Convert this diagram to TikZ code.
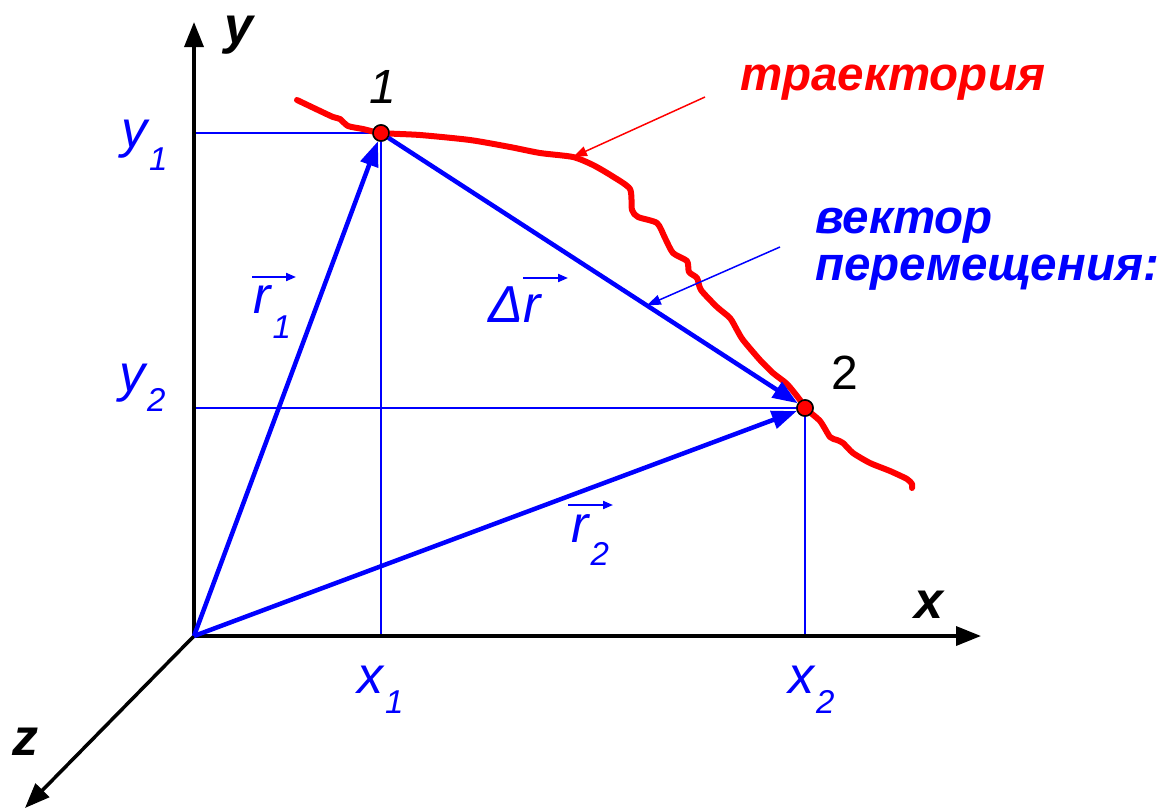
\documentclass[tikz,border=0pt]{standalone}
\usepackage{fontspec}
\setmainfont{Liberation Sans}
\usetikzlibrary{arrows.meta,calc}
\definecolor{vblue}{RGB}{0,0,255}
\definecolor{tred}{RGB}{255,0,0}
\newcommand\lsub[2]{\kern2pt\raisebox{-#1pt}{\fontsize{33}{40}\selectfont #2}}
\begin{document}
\begin{tikzpicture}[x=1pt,y=-1pt,
  axis/.style={line width=3.5pt,-{Triangle[length=25pt,width=19pt]}},
  vec/.style={draw=vblue,line width=4.5pt,-{Triangle[length=25pt,width=18pt]}},
  proj/.style={draw=vblue,line width=1.6pt},
  traj/.style={draw=tred,line width=6pt,line join=round,line cap=round},
  pt/.style={circle,fill=tred,draw=black,line width=1.5pt,minimum size=16pt,inner sep=0pt},
  axlbl/.style={font=\fontsize{52}{60}\selectfont\bfseries\itshape,inner sep=0pt,anchor=base west},
  lbl/.style={font=\fontsize{52}{60}\selectfont\itshape,text=vblue,inner sep=0pt,anchor=base west},
  over/.style={draw=vblue,line width=2pt,-{Triangle[length=10pt,width=8pt]}},
  ann/.style={line width=1.5pt,-{Triangle[length=14pt,width=10pt]}},
]
\useasboundingbox (0,0) rectangle (1164,809);
% coordinates
\coordinate (O) at (194,636);
\coordinate (ytip) at (194,22);
\coordinate (xtip) at (981,636);
\coordinate (ztip) at (25,808);
\node[pt] (p1) at (381,133) {};
\node[pt] (p2) at (805,408) {};
% projections
\draw[proj] (p1.center) -- (p1.center -| O);
\draw[proj] (p2.center) -- (p2.center -| O);
\draw[proj] (p1.center) -- (p1.center |- O);
\draw[proj] (p2.center) -- (p2.center |- O);
% axes
\draw[axis] (O) -- (ytip);
\draw[axis] (O) -- (xtip);
\draw[axis] (O) -- (ztip);
\node[axlbl] (ylab) at (224,43) {y};
\node[axlbl] (xlab) at (914,618) {x};
\node[axlbl] (zlab) at (12,755) {z};
% trajectory
\draw[traj] plot[smooth,tension=0.4] coordinates {(297,100) (318,110) (333,117) (340,119) (348,126) (363,129) (381,133) (420,135) (470,140) (510,147) (540,153) (573,157) (593,165) (612,176) (630,189) (632,210) (638,217) (657,223) (665,238) (673,253) (687,261) (689,272) (697,278) (701,290) (717,307) (730,318) (737,330) (743,340) (760,360) (773,373) (787,384) (800,400) (805,408) (820,421) (830,437) (837,440) (843,443) (853,453) (870,463) (890,471) (907,479) (912,484) (912,488)};
\coordinate (tpt) at (573,157);
% vectors
\draw[vec] (O) -- (p1);
\draw[vec] (O) -- (p2);
\draw[vec] (p1) -- (p2);
\node[pt] at (p1) {};
\node[pt] at (p2) {};
% point labels
\node[font=\fontsize{48}{56}\selectfont\itshape,inner sep=0pt,anchor=base west] (n1) at (369,103) {1};
\node[font=\fontsize{48}{56}\selectfont,inner sep=0pt,anchor=base west] (n2) at (831,389) {2};
% coordinate labels
\node[lbl] (y1) at (121,147) {y\lsub{23}{1}};
\node[lbl] (y2) at (119,391) {y\lsub{20}{2}};
\node[lbl] (x1) at (357,693) {x\lsub{20}{1}};
\node[lbl] (x2) at (788,693) {x\lsub{20}{2}};
% vector labels
\node[lbl] (r1) at (253,313) {r\lsub{25}{1}};
\node[lbl] (dr) at (488,322) {\char"0394 r};
\node[lbl] (r2) at (571,542) {r\lsub{23}{2}};
\draw[over] (252,277) -- (296,277);
\draw[over] (523,278) -- (568,278);
\draw[over] (568,505) -- (613,505);
% annotations
\node[font=\fontsize{47.5}{56}\selectfont\bfseries\itshape,text=tred,inner sep=0pt,anchor=base west] (traek) at (740,90) {траектория};
\node[font=\fontsize{47.5}{47}\selectfont\bfseries\itshape,text=vblue,inner sep=0pt,anchor=base west,align=left] (vper) at (815,280) {вектор\\перемещения:};
\coordinate (ta) at (705,97);
\coordinate (va) at (780,247);
\draw[ann,draw=tred,fill=tred] (ta) -- (tpt);
\draw[ann,draw=vblue,fill=vblue] (va) -- ($(p1)!0.627!(p2)$);
\end{tikzpicture}
\end{document}
